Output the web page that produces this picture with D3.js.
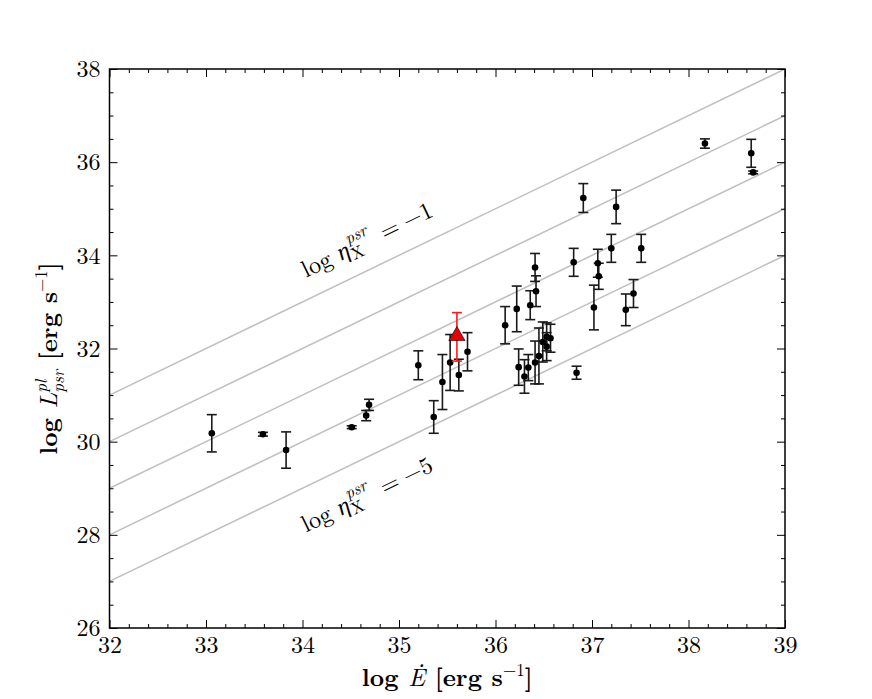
<!DOCTYPE html>
<html>
<head>
<meta charset="utf-8">
<script src="https://cdn.jsdelivr.net/npm/d3@7/dist/d3.min.js"></script>
<style>
  body { margin: 0; background: #fff; }
  svg { display: block; }
</style>
</head>
<body>
<svg id="chart" width="872" height="699"></svg>
<script>
// ---- data ----
const pulsarLogEdot = [33.06, 33.59, 33.83, 34.51, 34.66, 34.69, 35.20, 35.36, 35.45, 35.53, 35.62, 35.71,
  36.10, 36.22, 36.24, 36.30, 36.34, 36.36, 36.41, 36.41, 36.42, 36.45, 36.49, 36.53, 36.53, 36.57,
  36.81, 36.84, 36.91, 37.02, 37.06, 37.07, 37.20, 37.25, 37.35, 37.43, 37.51, 38.17, 38.65, 38.67];
const pulsarLogL = [30.18, 30.16, 29.82, 30.31, 30.56, 30.79, 31.64, 30.53, 31.28, 31.70, 31.43, 31.93,
  32.50, 32.85, 31.60, 31.40, 31.59, 32.93, 31.70, 33.74, 33.23, 31.84, 32.14, 32.25, 32.04, 32.22,
  33.85, 31.48, 35.23, 32.88, 33.83, 33.55, 34.15, 35.04, 32.83, 33.18, 34.15, 36.40, 36.19, 35.78];
const pulsarErr = [0.40, 0.04, 0.39, 0.03, 0.11, 0.12, 0.31, 0.35, 0.59, 0.60, 0.34, 0.41,
  0.40, 0.49, 0.39, 0.36, 0.28, 0.31, 0.46, 0.30, 0.33, 0.60, 0.43, 0.30, 0.30, 0.30,
  0.30, 0.14, 0.31, 0.48, 0.30, 0.28, 0.30, 0.36, 0.34, 0.30, 0.30, 0.10, 0.30, 0.03];
const targetLogEdot = [35.60];
const targetLogL = [32.25];
const targetErr = [0.52];
const etaValues = [-1, -2, -3, -4, -5];
const etaLabels = [-1, -5];
const xTicks = [32, 33, 34, 35, 36, 37, 38, 39];
const yTicks = [26, 28, 30, 32, 34, 36, 38];

// ---- layout ----
const FONT = '"Latin Modern Roman", "Liberation Serif", serif';
const svg = d3.select("#chart");
const L = 109.5, R = 785, T = 69, B = 628;
const x = d3.scaleLinear().domain([32, 39]).range([L, R]);
const y = d3.scaleLinear().domain([26, 38]).range([B, T]);

const plot = svg.append("g");
plot.append("clipPath").attr("id", "clip").append("rect")
  .attr("x", L).attr("y", T).attr("width", R - L).attr("height", B - T);

// efficiency lines
const lineG = plot.append("g").attr("clip-path", "url(#clip)");
etaValues.forEach(eta => {
  lineG.append("line")
    .attr("x1", x(32)).attr("y1", y(32 + eta))
    .attr("x2", x(39)).attr("y2", y(39 + eta))
    .attr("stroke", "#bfbfbf").attr("stroke-width", 1.5);
});

// labels along lines
const angle = -Math.atan((y(26) - y(27)) / (x(33) - x(32))) * 180 / Math.PI;
function etaLabel(cx, cy, val) {
  const g = plot.append("g").attr("transform", `translate(${cx},${cy}) rotate(${angle})`);
  const fs = 24;
  g.append("text").attr("x", -71).attr("y", 0).attr("font-size", fs).text("log");
  g.append("text").attr("x", -32).attr("y", 0).attr("font-size", fs).attr("font-style", "italic").text("η");
  g.append("text").attr("x", -19).attr("y", -12).attr("font-size", 17).attr("font-style", "italic").text("psr");
  g.append("text").attr("x", -20).attr("y", 5).attr("font-size", 17).text("X");
  g.append("text").attr("x", 16).attr("y", 0).attr("font-size", fs).text("=");
  g.append("text").attr("x", 41).attr("y", 0).attr("font-size", fs).text("\u2212" + Math.abs(val));
}
etaLabel(x(34.70), y(34.18), etaLabels[0]);
etaLabel(x(34.70), y(28.71), etaLabels[1]);

// error bars for pulsars
const capW = 5;
const pts = pulsarLogEdot.map((e, i) => ({ e, l: pulsarLogL[i], err: pulsarErr[i] }));
const eb = plot.append("g").attr("stroke", "#1a1a1a").attr("stroke-width", 1.6);
pts.forEach(d => {
  const cx = x(d.e), y0 = y(d.l - d.err), y1 = y(d.l + d.err);
  eb.append("line").attr("x1", cx).attr("x2", cx).attr("y1", y0).attr("y2", y1);
  eb.append("line").attr("x1", cx - capW).attr("x2", cx + capW).attr("y1", y0).attr("y2", y0);
  eb.append("line").attr("x1", cx - capW).attr("x2", cx + capW).attr("y1", y1).attr("y2", y1);
});
plot.append("g").selectAll("circle").data(pts).join("circle")
  .attr("cx", d => x(d.e)).attr("cy", d => y(d.l)).attr("r", 3.3).attr("fill", "#000");

// target (red)
targetLogEdot.forEach((e, i) => {
  const cx = x(e), y0 = y(targetLogL[i] - targetErr[i]), y1 = y(targetLogL[i] + targetErr[i]);
  const g = plot.append("g").attr("stroke", "#ff1a1a").attr("stroke-width", 1.6);
  g.append("line").attr("x1", cx).attr("x2", cx).attr("y1", y0).attr("y2", y1);
  g.append("line").attr("x1", cx - capW).attr("x2", cx + capW).attr("y1", y0).attr("y2", y0);
  g.append("line").attr("x1", cx - capW).attr("x2", cx + capW).attr("y1", y1).attr("y2", y1);
  const cy = y(targetLogL[i]);
  plot.append("path")
    .attr("d", d3.symbol().type(d3.symbolTriangle).size(115)())
    .attr("transform", `translate(${cx},${cy - 1})`)
    .attr("fill", "#e60000").attr("stroke", "#000").attr("stroke-width", 0.6);
});

// axes
const minorX = d3.range(32, 39.001, 0.2).filter(v => Math.abs(v - Math.round(v)) > 1e-6);
const minorY = d3.range(26, 38.001, 0.5).filter(v => Math.abs(v / 2 - Math.round(v / 2)) > 1e-6);

function styleAxis(g) {
  g.select(".domain").remove();
  g.selectAll(".tick line").attr("stroke", "#000").attr("stroke-width", 1);
  g.selectAll("text").attr("font-size", 24).attr("fill", "#000");
}
svg.append("g").attr("transform", `translate(0,${B})`)
  .call(d3.axisBottom(x).tickValues(xTicks).tickFormat(d3.format("d")).tickSize(-8).tickPadding(8)).call(styleAxis);
svg.append("g").attr("transform", `translate(0,${B})`)
  .call(d3.axisBottom(x).tickValues(minorX).tickFormat("").tickSize(-4)).call(styleAxis);
svg.append("g").attr("transform", `translate(0,${T})`)
  .call(d3.axisTop(x).tickValues(xTicks).tickFormat("").tickSize(-8)).call(styleAxis);
svg.append("g").attr("transform", `translate(0,${T})`)
  .call(d3.axisTop(x).tickValues(minorX).tickFormat("").tickSize(-4)).call(styleAxis);
svg.append("g").attr("transform", `translate(${L},0)`)
  .call(d3.axisLeft(y).tickValues(yTicks).tickFormat(d3.format("d")).tickSize(-8).tickPadding(9)).call(styleAxis);
svg.append("g").attr("transform", `translate(${L},0)`)
  .call(d3.axisLeft(y).tickValues(minorY).tickFormat("").tickSize(-4)).call(styleAxis);
svg.append("g").attr("transform", `translate(${R},0)`)
  .call(d3.axisRight(y).tickValues(yTicks).tickFormat("").tickSize(-8)).call(styleAxis);
svg.append("g").attr("transform", `translate(${R},0)`)
  .call(d3.axisRight(y).tickValues(minorY).tickFormat("").tickSize(-4)).call(styleAxis);

svg.append("rect").attr("x", L).attr("y", T).attr("width", R - L).attr("height", B - T)
  .attr("fill", "none").attr("stroke", "#000").attr("stroke-width", 1.5);

// axis titles
const xt = svg.append("text").attr("x", (L + R) / 2).attr("y", 686)
  .attr("text-anchor", "middle").attr("font-size", 25).attr("font-weight", "bold");
xt.append("tspan").text("log ");
xt.append("tspan").attr("font-style", "italic").attr("font-weight", "normal").text("\u0116");
xt.append("tspan").text(" [erg s");
xt.append("tspan").attr("dy", -10).attr("font-size", 17).attr("font-weight", "normal").text("\u22121");
xt.append("tspan").attr("dy", 10).text("]");

const yt = svg.append("text").attr("transform", `translate(57,${(T + B) / 2 + 10}) rotate(-90)`)
  .attr("text-anchor", "middle").attr("font-size", 25).attr("font-weight", "bold");
yt.append("tspan").text("log ");
yt.append("tspan").attr("font-style", "italic").attr("font-weight", "normal").text("L");
yt.append("tspan").attr("dy", -10).attr("font-size", 17).attr("font-style", "italic").attr("font-weight", "normal").text("pl");
yt.append("tspan").attr("dx", -13).attr("dy", 17).attr("font-size", 17).attr("font-style", "italic").attr("font-weight", "normal").text("psr");
yt.append("tspan").attr("dy", -7).text(" [erg s");
yt.append("tspan").attr("dy", -10).attr("font-size", 17).attr("font-weight", "normal").text("\u22121");
yt.append("tspan").attr("dy", 10).text("]");

svg.selectAll("text").style("font-family", FONT);
</script>
</body>
</html>
